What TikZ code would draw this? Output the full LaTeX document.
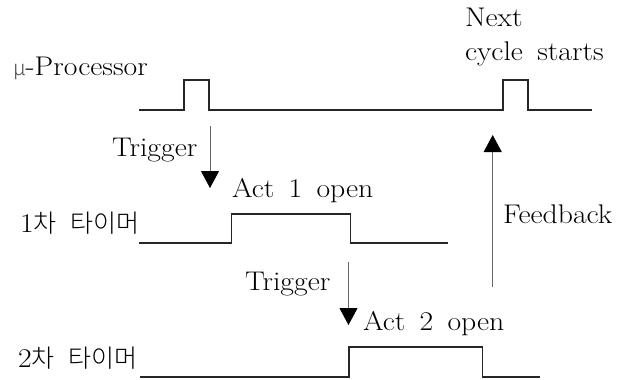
\documentclass[tikz,border=0pt]{standalone}
\usepackage{fontspec}
\usepackage{graphicx}
\usetikzlibrary{arrows.meta}
\newfontfamily\kr{Noto Sans CJK KR}[UprightFont={* Light}]
\newcommand\wide[1]{\scalebox{1.1}[1]{#1}}
\newcommand\hangul[1]{{\kr\fontsize{25}{30}\selectfont #1}}
\tikzset{
  lbl/.style={anchor=base west, inner sep=0pt, outer sep=0pt,
    font={\fontsize{27}{32}\selectfont\spaceskip=13pt\relax}},
  wave/.style={line width=1.3pt, draw=black!85, line join=miter},
  sig/.style={line width=1pt, draw=black!60,
    -{Triangle[width=18pt,length=17pt,color=black,fill=black]}}
}
\begin{document}
\begin{tikzpicture}[x=1pt,y=-1pt]
\useasboundingbox (0,0) rectangle (627,380);

% waveforms
\draw[wave] (139,110) coordinate (p0) -- (184,110) -- (184,80) -- (209,80) coordinate (p1)
  -- (209,110) -- (503,110) -- (503,80) -- (528,80) -- (528,110) -- (592,110) coordinate (p2);
\draw[wave] (139,243) coordinate (a0) -- (231.5,243) -- (231.5,214) -- (350.7,214)
  -- (350.7,243) -- (448,243) coordinate (a1);
\draw[wave] (140,377) coordinate (b0) -- (349,377) -- (349,347) -- (482.7,347)
  -- (482.7,377) -- (540,377) coordinate (b1);

% labels
\node[lbl] (proc) at (13,75) {{\kr\fontsize{21}{25}\selectfont\color{black!70}µ}\wide{-Processor}};
\node[lbl] (trig1) at (112,156) {\wide{Trigger}};
\node[lbl] (act1) at (232,197) {\wide{Act 1 open}};
\node[lbl] (tim1) at (20,232) {\wide{1}\hangul{차\hspace{14pt}타이머}};
\node[lbl] (fb) at (503,223) {\wide{Feedback}};
\node[lbl] (trig2) at (245,290) {\wide{Trigger}};
\node[lbl] (act2) at (363,330) {\wide{Act 2 open}};
\node[lbl] (tim2) at (18,367) {\wide{2}\hangul{차\hspace{14pt}타이머}};
\node[lbl] (next) at (465,27) {\wide{Next}};
\node[lbl] (cyc) at (465,60) {\wide{cycle starts}};

% signal arrows
\coordinate (t1s) at (210,126);
\coordinate (t1e) at (210,188);
\coordinate (t2s) at (348.5,262);
\coordinate (t2e) at (348.5,325);
\coordinate (fbs) at (492.7,287);
\coordinate (fbe) at (492.7,135);
\draw[sig] (t1s) -- (t1e);
\draw[sig] (t2s) -- (t2e);
\draw[sig] (fbs) -- (fbe);
\end{tikzpicture}
\end{document}
